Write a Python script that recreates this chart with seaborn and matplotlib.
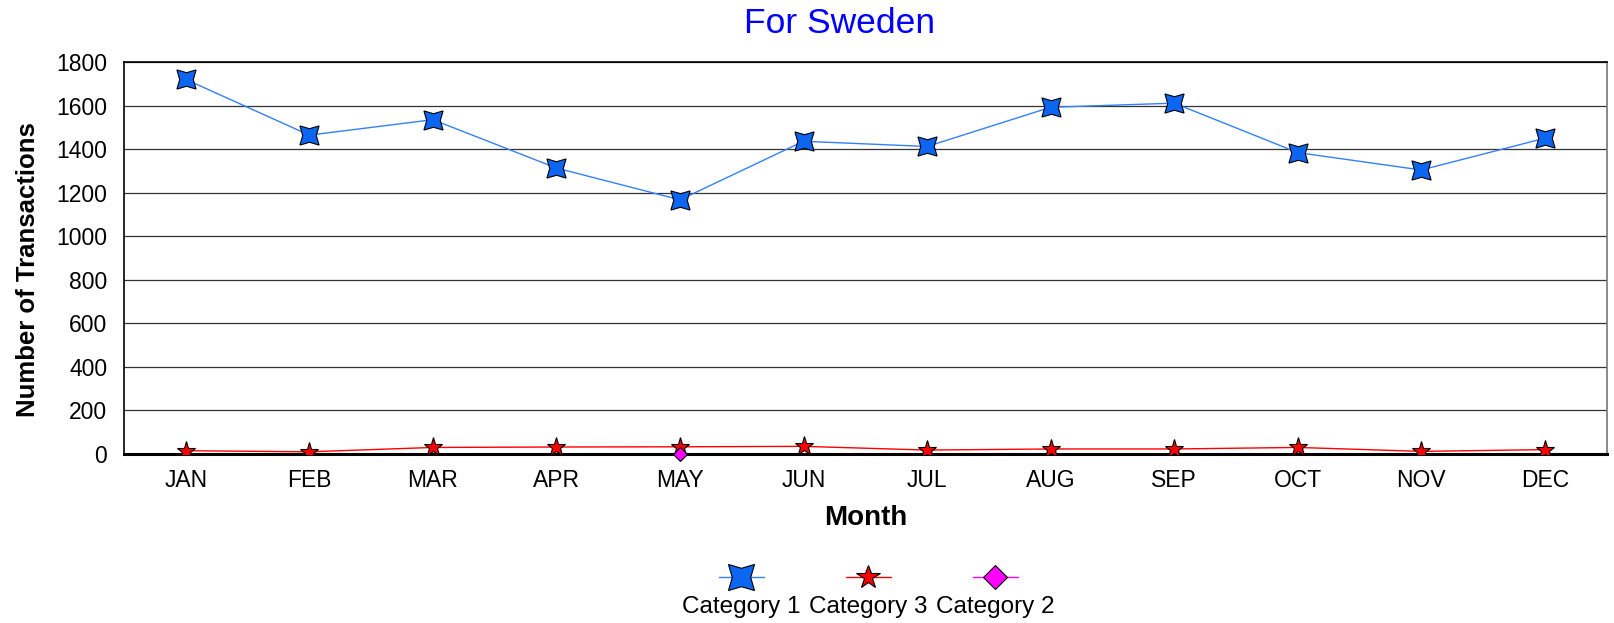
import matplotlib
matplotlib.use('Agg')

import pandas as pd
import seaborn as sns
from matplotlib import pyplot as plt
from matplotlib.lines import Line2D
from matplotlib.offsetbox import VPacker

months = ["JAN", "FEB", "MAR", "APR", "MAY", "JUN",
          "JUL", "AUG", "SEP", "OCT", "NOV", "DEC"]
cat1 = [1720, 1464, 1535, 1313, 1167, 1436, 1412, 1592, 1611, 1384, 1304, 1450]
cat3 = [15, 10, 30, 32, 33, 35, 18, 23, 23, 30, 12, 20]
cat2_months = ["MAY"]
cat2 = [0]
yticks = [0, 200, 400, 600, 800, 1000, 1200, 1400, 1600, 1800]

sns.set_style("white")
plt.rcParams['font.family'] = ['Liberation Sans', 'DejaVu Sans']
plt.rcParams['text.color'] = 'black'

star4 = (4, 1, 45)  # four pointed star, tips on the diagonals

df1 = pd.DataFrame({"x": range(len(months)), "y": cat1})
df3 = pd.DataFrame({"x": range(len(months)), "y": cat3})
df2 = pd.DataFrame({"x": [months.index(m) for m in cat2_months], "y": cat2})

fig = plt.figure(figsize=(16.15, 6.23), dpi=100)
ax = fig.add_axes([0.0768, 0.2713, 0.918, 0.6292])

blue_line = '#3380FF'
blue_fill = '#0D66F2'
sns.lineplot(data=df1, x="x", y="y", ax=ax, color=blue_line, linewidth=1,
             marker=star4, markersize=19.5, markerfacecolor=blue_fill,
             markeredgecolor='black', markeredgewidth=0.8, zorder=4)
sns.lineplot(data=df3, x="x", y="y", ax=ax, color='red', linewidth=1,
             marker='*', markersize=14, markerfacecolor='red',
             markeredgecolor='black', markeredgewidth=0.8, zorder=4)
sns.lineplot(data=df2, x="x", y="y", ax=ax, color='magenta', linewidth=1,
             marker='D', markersize=7.5, markerfacecolor='magenta',
             markeredgecolor='black', markeredgewidth=0.8, zorder=5,
             clip_on=False)

ax.set_xlim(-0.5, 11.5)
ax.set_ylim(0, 1800)
ax.set_xticks(range(len(months)))
ax.set_xticklabels(months)
ax.set_yticks(yticks)
ax.tick_params(labelsize=16.5, length=0, colors='black')
ax.tick_params(axis='x', pad=10.5)
ax.tick_params(axis='y', pad=12)
ax.yaxis.grid(True, color='#333333', linewidth=0.9)
ax.set_axisbelow(True)

for s in ['left', 'top']:
  ax.spines[s].set_color('black')
  ax.spines[s].set_linewidth(1.2)
ax.spines['bottom'].set_color('black')
ax.spines['bottom'].set_linewidth(2.2)
ax.spines['right'].set_color('#777777')
ax.spines['right'].set_linewidth(1.2)

ax.set_xlabel("Month", fontsize=20, fontweight='bold', color='black')
ax.xaxis.set_label_coords(0.5, -0.13)
ax.set_ylabel("Number of Transactions", fontsize=18.5, fontweight='bold',
              color='black')
ax.yaxis.set_label_coords(-0.057, 0.47)
fig.text(0.5198, 1 - 33 / 623, "For Sweden", color='#0000FF', fontsize=25.5,
         ha='center', va='baseline')

handles = [
  Line2D([], [], color=blue_line, linewidth=1, marker=star4, markersize=26.5,
         markerfacecolor=blue_fill, markeredgecolor='black', markeredgewidth=0.8),
  Line2D([], [], color='red', linewidth=1, marker='*', markersize=17.5,
         markerfacecolor='red', markeredgecolor='black', markeredgewidth=0.8),
  Line2D([], [], color='magenta', linewidth=1, marker='D', markersize=12.5,
         markerfacecolor='magenta', markeredgecolor='black', markeredgewidth=0.8),
]
leg = fig.legend(handles, ["Category 1", "Category 3", "Category 2"],
                 loc='lower center', bbox_to_anchor=(0.5375, -0.016), ncol=3,
                 frameon=False, fontsize=17.5, handlelength=1.85,
                 columnspacing=0.35, handletextpad=0.45, borderpad=0.1)
# put each label under its marker
for col in leg._legend_handle_box.get_children():
  for item in col.get_children():
    item.__class__ = VPacker
    item.align = 'center'

fig.savefig("out.png", dpi=100)
